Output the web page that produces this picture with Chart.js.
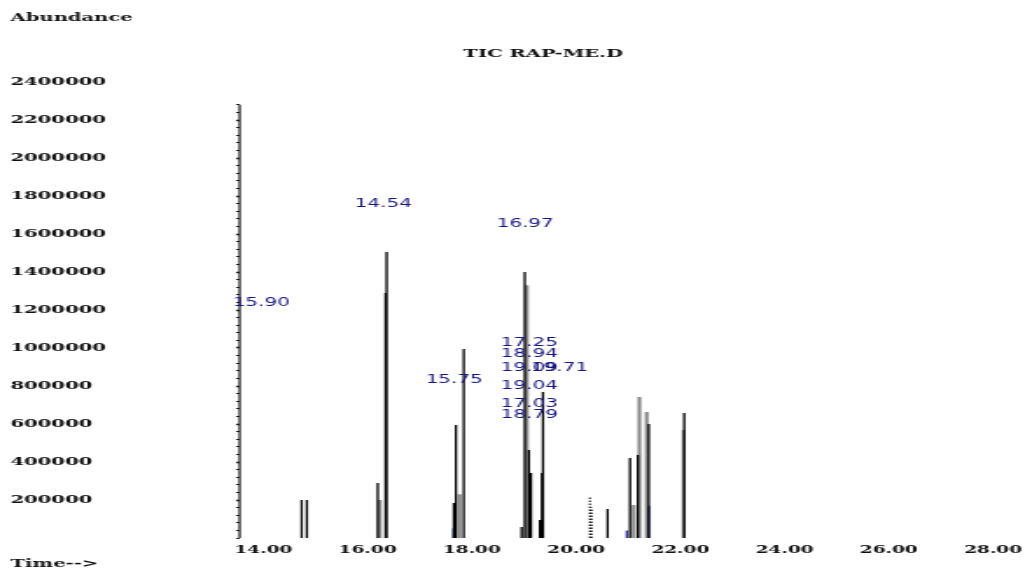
<!DOCTYPE html>
<html>
<head>
<meta charset="utf-8">
<title>TIC RAP-ME.D</title>
<script src="https://cdn.jsdelivr.net/npm/chart.js@4/dist/chart.umd.min.js"></script>
<style>
    html, body { margin: 0; padding: 0; background: #fff; overflow: hidden; }
    /* the printout is drawn narrow and widened, like the instrument report */
    #wrap { width: 586px; height: 571px; transform: scaleX(1.7491); transform-origin: 0 0; }
</style>
</head>
<body>
<div id="wrap"><canvas id="tic" width="586" height="571"></canvas></div>
<script>
// Axis labels
var timeTicks = [14, 16, 18, 20, 22, 24, 26, 28];
var abundanceTicks = [200000, 400000, 600000, 800000, 1000000, 1200000,
    1400000, 1600000, 1800000, 2000000, 2200000, 2400000];
var axisTop = 2280000;

// Black trace: retention time (min) and abundance of each spike
var blackTimes = [15.19, 15.29, 16.65, 16.80, 16.82, 18.11, 18.15, 18.30,
    19.41, 19.47, 19.55, 19.59, 19.76, 19.80, 19.82, 21.06, 21.49, 21.64, 21.85, 22.53];
var blackHeights = [200000, 200000, 290000, 1290000, 1505000, 184000, 595000, 995000,
    58000, 1400000, 463000, 342000, 95000, 342000, 768000, 153000, 421000, 437000, 600000, 658000];

// Grey trace
var greyTimes = [16.69, 18.22, 19.51, 21.56, 21.67, 21.81, 22.52];
var greyHeights = [200000, 230000, 1330000, 174000, 742000, 663000, 568000];

// Dotted trace
var dotTimes = [20.72, 20.75];
var dotHeights = [216000, 160000];

// Blue traces
var blueTimes = [21.43, 21.85];
var blueHeights = [40000, 170000];
var lilacTimes = [18.09];
var lilacHeights = [50000];

// Peak labels and where they sit (time, abundance)
var peakLabels = ['14.54', '15.90', '16.97', '15.75', '17.25', '18.94', '19.09', '19.71', '19.04', '17.03', '18.79'];
var labelTimes = [16.21, 13.87, 18.93, 17.57, 19.01, 19.01, 19.01, 19.59, 19.01, 19.01, 19.01];
var labelAbundance = [1758000, 1237000, 1653000, 832000, 1026000, 968000, 895000, 895000, 800000, 705000, 647000];

// Build vertical spikes, broken apart with nulls
function spikes(times, heights) {
    var pts = [];
    times.forEach(function (t, i) {
        pts.push({ x: t, y: 0 }, { x: t, y: heights[i] }, { x: t, y: null });
    });
    return pts;
}

function trace(label, times, heights, color, width, dash) {
    return {
        label: label,
        data: spikes(times, heights),
        borderColor: color,
        borderWidth: width,
        borderDash: dash || [],
        spanGaps: false,
        pointRadius: 0,
        tension: 0,
        fill: false
    };
}

// Y axis line with its minor ticks stops short of the top label
var axisLine = {
    id: 'axisLine',
    beforeDatasetsDraw: function (chart) {
        var ctx = chart.ctx, y = chart.scales.y, x0 = chart.chartArea.left;
        ctx.save();
        ctx.strokeStyle = '#111111';
        ctx.lineWidth = 1.2;
        ctx.beginPath();
        ctx.moveTo(x0, y.getPixelForValue(0));
        ctx.lineTo(x0, y.getPixelForValue(axisTop));
        ctx.stroke();
        ctx.restore();
    }
};

// Peak labels, header and footer text
var reportText = {
    id: 'reportText',
    afterDatasetsDraw: function (chart) {
        var ctx = chart.ctx, x = chart.scales.x, y = chart.scales.y;
        ctx.save();
        ctx.fillStyle = '#16167e';
        ctx.font = '11.4px "DejaVu Sans"';
        ctx.textBaseline = 'middle';
        ctx.textAlign = 'left';
        peakLabels.forEach(function (txt, i) {
            ctx.fillText(txt, x.getPixelForValue(labelTimes[i]), y.getPixelForValue(labelAbundance[i]));
        });

        ctx.fillStyle = '#111111';
        ctx.font = 'bold 11.2px "DejaVu Serif"';
        ctx.fillText('Abundance', 6, 18);
        ctx.fillText('Time-->', 6, 564);
        ctx.textAlign = 'center';
        ctx.fillText('TIC RAP-ME.D', 310.5, 54);
        ctx.restore();
    }
};

new Chart(document.getElementById('tic'), {
    type: 'line',
    data: {
        datasets: [
            trace('black', blackTimes, blackHeights, '#000000', 1.3),
            trace('dotted', dotTimes, dotHeights, '#111111', 1.1, [1.5, 1.5]),
            trace('blue', blueTimes, blueHeights, '#2e2e9e', 1.4),
            trace('lilac', lilacTimes, lilacHeights, '#9a9ad8', 1.4),
            trace('grey', greyTimes, greyHeights, '#8c8c8c', 2.2)
        ]
    },
    options: {
        responsive: false,
        animation: false,
        devicePixelRatio: 1,
        layout: { padding: { left: 6, right: 8, top: 82, bottom: 0 } },
        plugins: {
            legend: { display: false },
            tooltip: { enabled: false },
            title: { display: false }
        },
        scales: {
            x: {
                type: 'linear',
                min: 14,
                max: 28.8,
                afterBuildTicks: function (s) {
                    s.ticks = timeTicks.map(function (v) { return { value: v }; });
                },
                afterFit: function (s) { s.height = 33; s.paddingLeft = 0; s.paddingRight = 0; },
                grid: { display: false },
                border: { display: false },
                ticks: {
                    autoSkip: false,
                    maxRotation: 0,
                    align: 'start',
                    labelOffset: -3,
                    padding: -2,
                    color: '#111111',
                    font: { family: 'DejaVu Serif', size: 10.6, weight: 'bold' },
                    callback: function (v) { return Number(v).toFixed(2); }
                }
            },
            y: {
                type: 'linear',
                min: 0,
                max: 2400000,
                afterBuildTicks: function (s) {
                    var t = [];
                    for (var v = 0; v <= 2400000; v += 40000) t.push({ value: v });
                    s.ticks = t;
                },
                afterFit: function (s) { s.width = 131; },
                border: { display: false },
                grid: {
                    drawOnChartArea: false,
                    drawTicks: true,
                    tickLength: 2,
                    tickColor: function (c) {
                        return c.tick && c.tick.value > axisTop ? 'rgba(0,0,0,0)' : '#222222';
                    },
                    tickWidth: function (c) {
                        return c.tick && abundanceTicks.indexOf(c.tick.value) >= 0 ? 1.5 : 1;
                    }
                },
                ticks: {
                    autoSkip: false,
                    crossAlign: 'far',
                    color: '#111111',
                    font: { family: 'DejaVu Serif', size: 11.2, weight: 'bold' },
                    callback: function (v) {
                        return abundanceTicks.indexOf(v) >= 0 ? String(v) : '';
                    }
                }
            }
        }
    },
    plugins: [axisLine, reportText]
});
</script>
</body>
</html>
